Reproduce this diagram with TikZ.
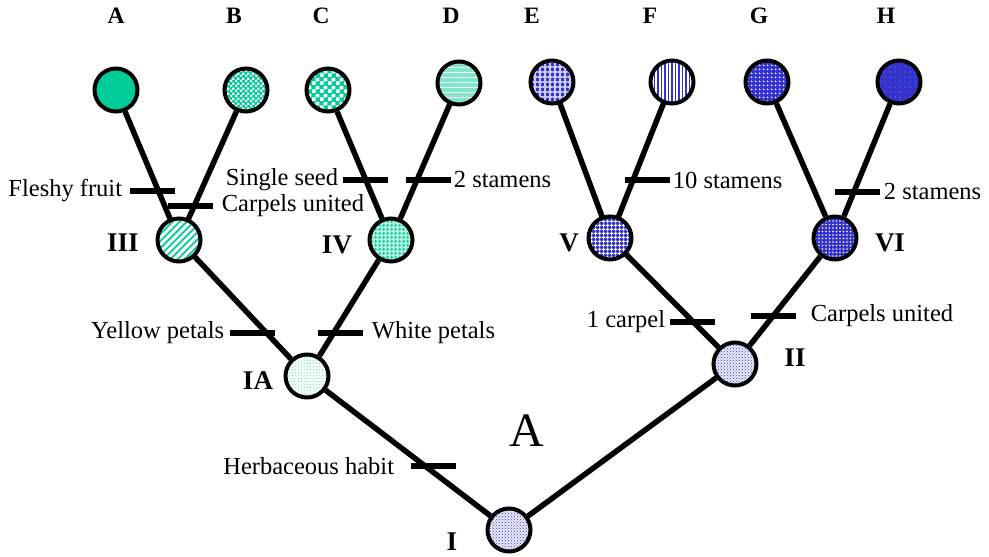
\documentclass[tikz,border=0pt]{standalone}
\usepackage{fontspec}
\setmainfont{Liberation Serif}
\usetikzlibrary{positioning, patterns, patterns.meta}

\definecolor{leafteal}{RGB}{0,204,153}
\definecolor{leafblue}{RGB}{51,51,204}

% checkers for taxa B and C
\pgfdeclarepatternformonly{finecheck}{\pgfpointorigin}{\pgfqpoint{5pt}{5pt}}{\pgfqpoint{5pt}{5pt}}{%
  \pgfpathrectangle{\pgfpointorigin}{\pgfqpoint{2.5pt}{2.5pt}}%
  \pgfpathrectangle{\pgfqpoint{2.5pt}{2.5pt}}{\pgfqpoint{2.5pt}{2.5pt}}%
  \pgfusepath{fill}}
\pgfdeclarepatternformonly{coarsecheck}{\pgfpointorigin}{\pgfqpoint{8pt}{8pt}}{\pgfqpoint{8pt}{8pt}}{%
  \pgfpathrectangle{\pgfpointorigin}{\pgfqpoint{4pt}{4pt}}%
  \pgfpathrectangle{\pgfqpoint{4pt}{4pt}}{\pgfqpoint{4pt}{4pt}}%
  \pgfusepath{fill}}

\begin{document}
\begin{tikzpicture}[x=1pt, y=-1pt,
    taxon/.style={circle, draw, line width=4pt, minimum size=43pt, inner sep=0pt},
    ground/.style={preaction={fill=#1}},
    branch/.style={line width=5.5pt},
    traitbar/.style={rectangle, fill, inner sep=0pt, minimum width=45pt, minimum height=6.5pt},
    trait/.style={inner sep=1pt, font=\fontsize{24.5}{26}\selectfont},
    clade/.style={font=\fontsize{27}{28}\selectfont\bfseries},
    tip/.style={font=\fontsize{23.5}{25}\selectfont\bfseries}]
  \useasboundingbox (0,0) rectangle (989,557);

  % Terminal taxa
  \node[taxon, fill=leafteal] (a) at (116,90) {};
  \node[taxon, ground=leafteal, pattern=finecheck, pattern color=white] (b) at (246,90) {};
  \node[taxon, ground=leafteal, pattern=coarsecheck, pattern color=white] (c) at (328,90) {};
  \node[taxon, ground=leafteal!50, pattern={Lines[angle=0, distance=5pt, line width=0.8pt]}, pattern color=white] (d) at (459,83) {};
  \node[taxon, ground=leafblue, pattern={Hatch[angle=0, distance=5pt, line width=1.2pt]}, pattern color=leafblue!25!white] (e) at (552,82) {};
  \node[taxon, ground=white, pattern={Lines[angle=90, distance=3.5pt, line width=1.2pt]}, pattern color=leafblue] (f) at (672,82) {};
  \node[taxon, ground=leafblue, pattern={Dots[distance=4pt, radius=1.1pt]}, pattern color=white] (g) at (767,82) {};
  \node[taxon, ground=leafblue, pattern={Dots[distance=5pt, radius=0.5pt]}, pattern color=leafblue!40!white] (h) at (899,82) {};

  \node[tip] at (116,16) {A};
  \node[tip] at (234,16) {B};
  \node[tip] at (321,16) {C};
  \node[tip] at (451,16) {D};
  \node[tip] at (532,16) {E};
  \node[tip] at (650,16) {F};
  \node[tip] at (759,16) {G};
  \node[tip] at (886,16) {H};

  % Ancestral nodes
  \node[taxon, ground=white, pattern={Lines[angle=45, distance=5pt, line width=1.8pt]}, pattern color=leafteal] (iii) at (179,240) {};
  \node[taxon, ground=leafteal!30, pattern={Dots[distance=4pt, radius=1.6pt]}, pattern color=leafteal] (iv) at (391,240) {};
  \node[taxon, ground=leafblue, pattern={Hatch[angle=0, distance=4pt, line width=1.2pt]}, pattern color=white] (v) at (610,238) {};
  \node[taxon, ground=leafblue, pattern={Dots[distance=3.5pt, radius=0.9pt]}, pattern color=white] (vi) at (835,238) {};
  \node[taxon, ground=white, pattern=crosshatch dots, pattern color=leafteal!60] (ia) at (307,376) {};
  \node[taxon, ground=leafblue!10, pattern=crosshatch dots, pattern color=leafblue] (ii) at (735,364) {};
  \node[taxon, ground=leafblue!10, pattern=crosshatch dots, pattern color=leafblue] (i) at (509,530) {};

  \node[clade] at (123,243) {III};
  \node[clade] at (337,245) {IV};
  \node[clade] at (569,243) {V};
  \node[clade] at (890,243) {VI};
  \node[clade] at (258,381) {IA};
  \node[clade] at (795,358) {II};
  \node[clade] at (452,542) {I};

  % Branches
  \draw[branch] (a) -- (iii);
  \draw[branch] (b) -- (iii);
  \draw[branch] (c) -- (iv);
  \draw[branch] (d) -- (iv);
  \draw[branch] (e) -- (v);
  \draw[branch] (f) -- (v);
  \draw[branch] (g) -- (vi);
  \draw[branch] (h) -- (vi);
  \draw[branch] (iii) -- (ia);
  \draw[branch] (iv) -- (ia);
  \draw[branch] (ia) -- (i);
  \draw[branch] (v) -- (ii);
  \draw[branch] (vi) -- (ii);
  \draw[branch] (ii) -- (i);

  % Character changes
  \node[traitbar] (fleshy) at (152,191) {};
  \node[trait, left=6pt of fleshy] {Fleshy fruit};
  \node[traitbar] (unitedl) at (190,206) {};
  \node[trait, right=8pt of unitedl] {Carpels united};
  \node[traitbar] (seed) at (365,180) {};
  \node[trait, left=3pt of seed] {Single seed};
  \node[traitbar] (stamc) at (428,180) {};
  \node[trait, right=2pt of stamc] {2 stamens};
  \node[traitbar] (stamf) at (647,180) {};
  \node[trait, right=2pt of stamf] {10 stamens};
  \node[traitbar] (stamh) at (857,192) {};
  \node[trait, right=3pt of stamh] {2 stamens};
  \node[traitbar] (yellow) at (252,333) {};
  \node[trait, left=4pt of yellow] {Yellow petals};
  \node[traitbar] (white) at (340,333) {};
  \node[trait, right=8pt of white] {White petals};
  \node[traitbar] (carpel) at (692,322) {};
  \node[trait, left=3pt of carpel] {1 carpel};
  \node[traitbar] (unitedr) at (773,316) {};
  \node[trait, right=14pt of unitedr] {Carpels united};
  \node[traitbar] (herb) at (433,466) {};
  \node[trait, left=15pt of herb] {Herbaceous habit};

  \node[font=\fontsize{48}{50}\selectfont] (bigA) at (527,431) {A};
\end{tikzpicture}
\end{document}
